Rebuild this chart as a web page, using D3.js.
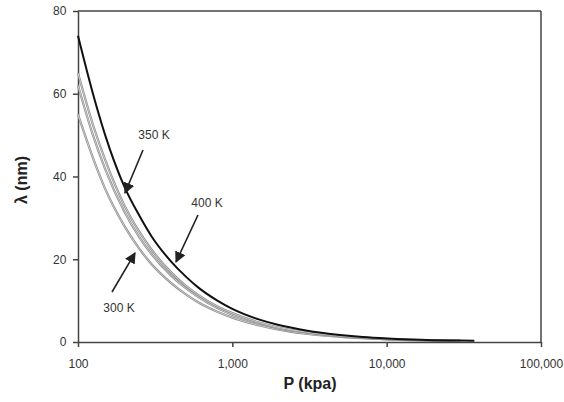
<!DOCTYPE html>
<html><head><meta charset="utf-8">
<script src="https://cdn.jsdelivr.net/npm/d3@7"></script>
<style>body{margin:0;background:#fff}svg{display:block}text{font-family:"Liberation Sans",Arial,sans-serif}</style>
</head><body><svg id="c" width="564" height="402"></svg>
<script>
const pressure = [100,125,150,200,250,300,400,500,600,800,1000,1500,2000,3000,5000,7000,10000,20000,30000];
const pressureBlack = [100,125,150,200,250,300,400,500,600,800,1000,1500,2000,3000,5000,7000,10000,20000,30000,37000];
const curveBlack = [74,60,50,37.5,30.5,25.5,19.5,15.8,13.2,10,8,5.4,4.1,2.8,1.7,1.2,0.85,0.45,0.35,0.3];
const curveGrayA = [65,52.5,44,33,26.6,22.3,16.9,13.6,11.4,8.6,7,4.7,3.5,2.4,1.45,1.05,0.75,0.4,0.3];
const curveGrayB = [62,50,41.8,31.5,25.3,21.2,16.1,13,10.9,8.2,6.6,4.5,3.3,2.3,1.4,1.0,0.7,0.38,0.28];
const curveGrayC = [55,44.5,37,28,22.5,18.8,14.3,11.5,9.6,7.3,5.9,4.0,3.0,2.0,1.25,0.9,0.65,0.35,0.25];
const xTicks = [100,1000,10000,100000];
const xTickLabels = ["100","1,000","10,000","100,000"];
const yTicks = [0,20,40,60,80];
const labels = [
  {text:"350 K", tx:154, ty:139, x1:143, y1:150, x2:125, y2:193},
  {text:"400 K", tx:207, ty:207, x1:198, y1:215, x2:176, y2:262},
  {text:"300 K", tx:119, ty:312, x1:112, y1:292, x2:135, y2:253}
];

const svg = d3.select("#c");
const L=78,R=541,T=11,B=342;
const x = d3.scaleLog().domain([100,100000]).range([L,R]);
const y = d3.scaleLinear().domain([0,80]).range([B,T]);
const axisCol="#444";

svg.append("line").attr("x1",L).attr("x2",R).attr("y1",T).attr("y2",T).attr("stroke",axisCol).attr("stroke-width",1.5);
svg.append("line").attr("x1",R).attr("x2",R).attr("y1",T).attr("y2",B).attr("stroke",axisCol).attr("stroke-width",1.5);

const xa = svg.append("g").attr("transform",`translate(0,${B})`)
  .call(d3.axisBottom(x).tickValues(xTicks).tickFormat((d,i)=>xTickLabels[i]).tickSize(5).tickSizeOuter(0));
const ya = svg.append("g").attr("transform",`translate(${L},0)`)
  .call(d3.axisLeft(y).tickValues(yTicks).tickSize(5).tickSizeOuter(0));
[xa,ya].forEach(g=>{
  g.select(".domain").attr("stroke",axisCol).attr("stroke-width",1.5);
  g.selectAll(".tick line").attr("stroke",axisCol).attr("stroke-width",1.5);
  g.selectAll(".tick text").attr("fill","#333").attr("font-size",12);
});
xa.selectAll(".tick text").attr("dy","1.5em");
ya.selectAll(".tick text").attr("dx","-0.3em");

const mk = px => d3.line().x((d,i)=>x(px[i])).y(d=>y(d)).curve(d3.curveMonotoneX);
const line = mk(pressure), lineB = mk(pressureBlack);
[curveGrayC,curveGrayB,curveGrayA].forEach(s=>{
  svg.append("path").attr("d",line(s)).attr("fill","none").attr("stroke","#8a8a8a").attr("stroke-width",2.2);
  svg.append("path").attr("d",line(s)).attr("fill","none").attr("stroke","#e6e6e6").attr("stroke-width",0.7);
});
svg.append("path").attr("d",lineB(curveBlack)).attr("fill","none").attr("stroke","#111").attr("stroke-width",2);

svg.append("defs").append("marker").attr("id","ah").attr("viewBox","0 0 10 10").attr("refX",9).attr("refY",5)
  .attr("markerWidth",7).attr("markerHeight",7).attr("orient","auto")
  .append("path").attr("d","M0,0L10,5L0,10z").attr("fill","#222");
labels.forEach(l=>{
  svg.append("line").attr("x1",l.x1).attr("y1",l.y1).attr("x2",l.x2).attr("y2",l.y2)
    .attr("stroke","#222").attr("stroke-width",1.6).attr("marker-end","url(#ah)");
  svg.append("text").attr("x",l.tx).attr("y",l.ty).attr("text-anchor","middle").attr("font-size",12).attr("fill","#333").text(l.text);
});

svg.append("text").attr("x",310).attr("y",389).attr("text-anchor","middle").attr("font-size",16).attr("font-weight","bold").attr("fill","#222").text("P (kpa)");
svg.append("text").attr("transform","translate(27,180) rotate(-90)").attr("text-anchor","middle").attr("font-size",16).attr("font-weight","bold").attr("fill","#222").text("λ (nm)");
</script></body></html>
